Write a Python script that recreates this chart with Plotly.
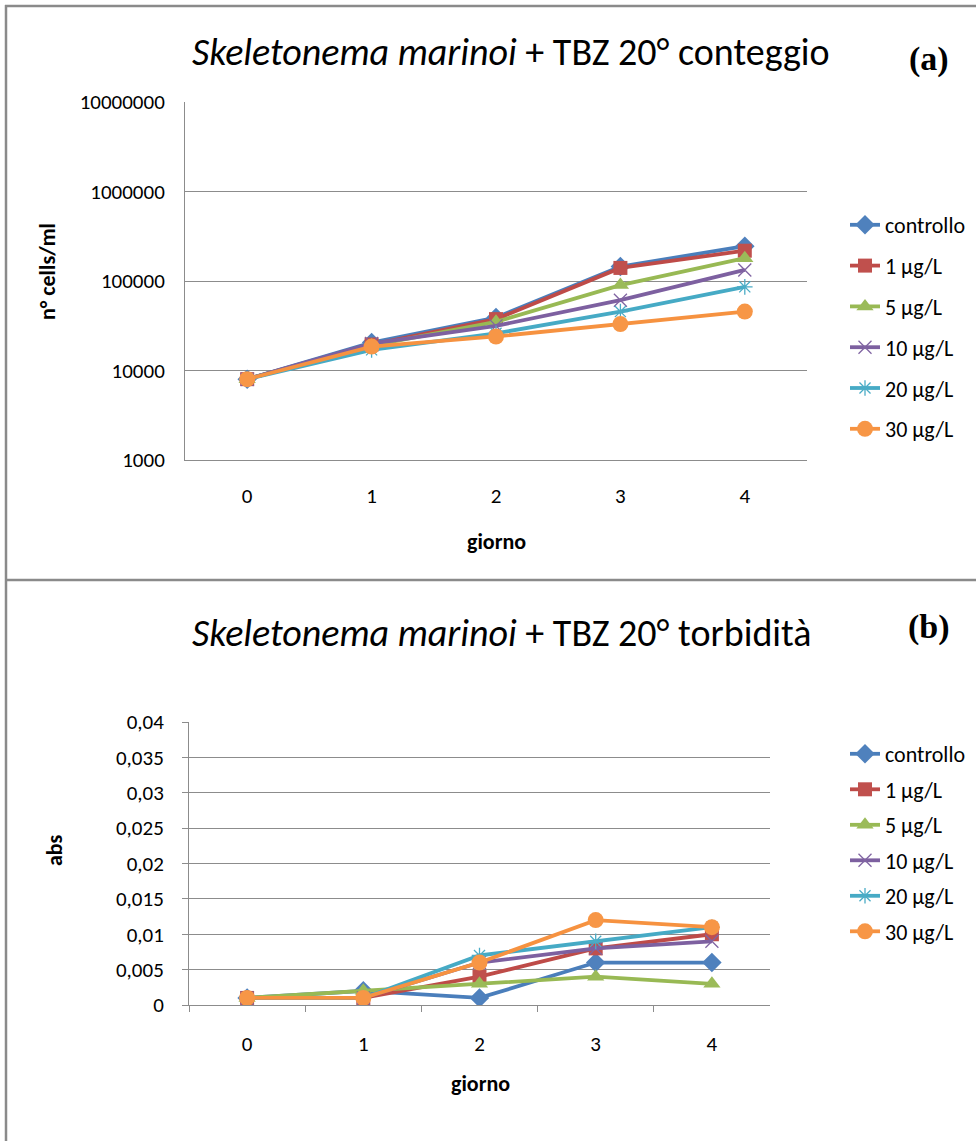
import plotly.graph_objects as go

# --- data -------------------------------------------------------------
giorni = ["0", "1", "2", "3", "4"]
serie = ["controllo", "1 µg/L", "5 µg/L", "10 µg/L", "20 µg/L", "30 µg/L"]

# cell counts (n° cells/ml)
cells_controllo = [8000, 20500, 39000, 145000, 245000]
cells_1 = [8000, 19500, 37500, 140000, 218000]
cells_5 = [8000, 19000, 35000, 90000, 180000]
cells_10 = [8000, 20000, 31500, 61000, 133000]
cells_20 = [8000, 17000, 26000, 45500, 86000]
cells_30 = [8000, 18500, 24000, 33000, 45500]

# turbidity (abs)
abs_controllo = [0.001, 0.002, 0.001, 0.006, 0.006]
abs_1 = [0.001, 0.001, 0.004, 0.008, 0.010]
abs_5 = [0.001, 0.002, 0.003, 0.004, 0.003]
abs_10 = [0.001, 0.001, 0.006, 0.008, 0.009]
abs_20 = [0.001, 0.001, 0.007, 0.009, 0.011]
abs_30 = [0.001, 0.001, 0.006, 0.012, 0.011]

cells_ticks = [1000, 10000, 100000, 1000000, 10000000]
abs_ticks = [0, 0.005, 0.01, 0.015, 0.02, 0.025, 0.03, 0.035, 0.04]
abs_ticktext = ["0", "0,005", "0,01", "0,015", "0,02", "0,025", "0,03", "0,035", "0,04"]

# --- styling ----------------------------------------------------------
W, H = 976, 1141
FONT = "Carlito, Lato, sans-serif"
GRID = "#8c8c8c"

line_colors = ["#4A7EBB", "#BE4B48", "#98B954", "#7D60A0", "#46AAC5", "#F69240"]
marker_colors = ["#4F81BD", "#C0504D", "#9BBB59", "#8064A2", "#4BACC6", "#F79646"]
symbols = ["diamond", "square", "triangle-up", "x-thin-open", "asterisk-open", "circle"]
sizes = [15, 14, 15, 13, 13, 16]


def px_x(v):
    return v / W


def px_y(v):
    return 1 - v / H


fig = go.Figure()

cells_data = [cells_controllo, cells_1, cells_5, cells_10, cells_20, cells_30]
abs_data = [abs_controllo, abs_1, abs_5, abs_10, abs_20, abs_30]


def make_marker(i):
    thin = symbols[i].endswith("-open")
    return dict(
        symbol=symbols[i],
        size=sizes[i],
        color=marker_colors[i],
        line=dict(color=marker_colors[i], width=1.3 if thin else 0),
    )


for i, name in enumerate(serie):
    fig.add_trace(go.Scatter(
        x=giorni, y=cells_data[i], name=name, mode="lines+markers",
        line=dict(color=line_colors[i], width=3.8), marker=make_marker(i),
        xaxis="x", yaxis="y", legend="legend", legendgroup="a" + str(i),
    ))
for i, name in enumerate(serie):
    fig.add_trace(go.Scatter(
        x=giorni, y=abs_data[i], name=name, mode="lines+markers",
        line=dict(color=line_colors[i], width=3.8), marker=make_marker(i),
        xaxis="x2", yaxis="y2", legend="legend2", legendgroup="b" + str(i),
    ))

tick_font = dict(family=FONT, size=21, color="black")
axis_title_font = dict(family=FONT, size=22, color="black")

legend_common = dict(
    xanchor="left", yanchor="top", font=dict(family=FONT, size=22, color="black"),
    bgcolor="rgba(0,0,0,0)", traceorder="grouped",
)

fig.update_layout(
    width=W, height=H,
    margin=dict(l=0, r=0, t=0, b=0, autoexpand=False),
    paper_bgcolor="white", plot_bgcolor="white",
    showlegend=True,
    xaxis=dict(
        domain=[px_x(185), px_x(807)], anchor="y", type="category",
        range=[-0.5, 4.5], automargin=False,
        showgrid=False, showline=True, linecolor=GRID, linewidth=1,
        ticks="", tickfont=tick_font, ticklabelstandoff=17,
    ),
    yaxis=dict(
        domain=[px_y(460), px_y(102)], anchor="x", type="log", automargin=False,
        range=[3, 7], tickvals=cells_ticks, ticktext=[str(v) for v in cells_ticks],
        showgrid=True, gridcolor=GRID, gridwidth=1,
        showline=True, linecolor=GRID, linewidth=1, ticks="",
        tickfont=tick_font, ticklabelstandoff=15,
    ),
    xaxis2=dict(
        domain=[px_x(189), px_x(770)], anchor="y2", type="category",
        range=[-0.5, 4.5], automargin=False,
        showgrid=False, showline=True, linecolor=GRID, linewidth=1,
        ticks="outside", tickson="boundaries", ticklen=6, tickcolor=GRID,
        tickfont=tick_font, ticklabelstandoff=20,
    ),
    yaxis2=dict(
        domain=[px_y(1005), px_y(722)], anchor="x2", automargin=False,
        range=[0, 0.04], tickvals=abs_ticks, ticktext=abs_ticktext,
        showgrid=True, gridcolor=GRID, gridwidth=1,
        showline=True, linecolor=GRID, linewidth=1,
        ticks="outside", ticklen=6, tickcolor=GRID,
        tickfont=tick_font, ticklabelstandoff=14,
    ),
    legend=dict(x=px_x(845), y=px_y(204), tracegroupgap=9.2, **legend_common),
    legend2=dict(x=px_x(845), y=px_y(733), tracegroupgap=3.9, **legend_common),
)


def label(text, x, y, font, angle=0):
    fig.add_annotation(
        text=text, x=px_x(x), y=px_y(y), xref="paper", yref="paper",
        showarrow=False, font=font, textangle=angle,
        xanchor="center", yanchor="middle",
    )


# chart titles and panel letters
title_font = dict(family=FONT, size=38, color="black")
letter_font = dict(family="Liberation Serif, serif", size=34, color="black")
label("<i>Skeletonema marinoi</i> + TBZ 20° conteggio", 511, 52, title_font)
label("<i>Skeletonema marinoi</i> + TBZ 20° torbidità", 502, 633, title_font)
label("<b>(a)</b>", 929, 59, letter_font)
label("<b>(b)</b>", 929, 627, letter_font)

# axis titles
label("<b>n° cells/ml</b>", 47, 272, axis_title_font, angle=-90)
label("<b>giorno</b>", 496, 541, axis_title_font)
label("<b>abs</b>", 55, 850, axis_title_font, angle=-90)
label("<b>giorno</b>", 480, 1083, axis_title_font)

# outer frames of the two chart boxes
frame = dict(color="#8a8a8a", width=2.5)
fig.add_shape(type="line", xref="paper", yref="paper",
              x0=px_x(6), x1=px_x(6), y0=0, y1=px_y(5), line=frame)
fig.add_shape(type="line", xref="paper", yref="paper",
              x0=px_x(5), x1=1, y0=px_y(6), y1=px_y(6), line=frame)
fig.add_shape(type="line", xref="paper", yref="paper",
              x0=px_x(5), x1=1, y0=px_y(580), y1=px_y(580), line=frame)

fig.write_html("out.html")
